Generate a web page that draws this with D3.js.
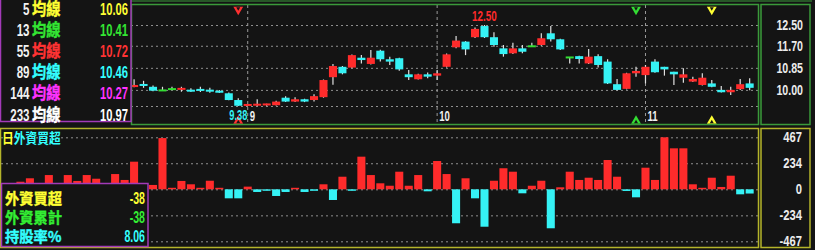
<!DOCTYPE html>
<html>
<head>
<meta charset="utf-8">
<script src="https://cdn.jsdelivr.net/npm/d3@7"></script>
<style>
html, body { margin: 0; padding: 0; background: #141414; }
svg { display: block; }
</style>
</head>
<body>
<div id="chart"></div>
<script>
// ---- data ----
// foreign net buy (lots), one per trading day
var foreignNet = [68, 99, 20, 128, 25, 128, 75, 128, 95, 30, 137, 84,
  248, 30, 39, 460, 9, 75, 45, 12, 77, 9,
  -81, -81, 24, -24, -12, -60, -24, 12, -24, -6,
  45, -96, 113, -9, 293, 128, 54, 32, 158, 32,
  128, -18, 254, 137, -305, 99, -81, -336, 77, 189,
  158, -36, 32, 77, -350, 18, 158, 84, 104, 84,
  263, 113, -15, -72, 194, 84, 467, 368, 368, 45,
  12, 104, 21, 122, -45, -38];

// the first days of the candle panel sit under the MA legend
var candleOffset = 12;
var open = [10.11, 10.19, 10.12, 9.98, 10.03, 10.00, 9.97, 10.00, 9.97, 9.93,
  9.87, 9.61, 9.39, 9.39, 9.40, 9.41, 9.70, 9.55, 9.64, 9.61,
  9.72, 10.49, 10.89, 10.86, 11.24, 11.00, 11.51, 11.18, 11.22, 10.60,
  10.41, 10.60, 10.55, 10.89, 11.64, 11.86, 12.03, 12.46, 12.03, 11.60,
  11.41, 11.60, 11.68, 11.73, 12.18, 11.95, 11.25, 11.30, 11.02, 11.30,
  11.09, 10.22, 10.04, 10.64, 10.57, 11.09, 10.89, 10.70, 10.47, 10.32,
  10.19, 10.25, 10.00, 9.91, 10.03, 10.25];
var high = [10.41, 10.35, 10.17, 10.12, 10.12, 10.12, 10.06, 10.12, 10.08, 10.00,
  9.90, 9.68, 9.45, 9.64, 9.47, 9.58, 9.76, 9.72, 9.66, 9.83,
  10.40, 11.00, 10.92, 11.36, 11.34, 11.54, 11.55, 11.28, 11.24, 10.77,
  10.62, 10.67, 10.77, 11.40, 12.08, 11.88, 12.40, 12.50, 12.22, 11.73,
  11.82, 11.73, 11.82, 12.18, 12.46, 11.97, 11.25, 11.32, 11.58, 11.37,
  11.18, 10.42, 10.66, 10.89, 10.96, 11.18, 10.89, 10.70, 10.83, 10.51,
  10.64, 10.38, 10.15, 10.12, 10.42, 10.45];
var low = [10.10, 10.08, 9.95, 9.96, 10.00, 9.93, 9.92, 9.92, 9.89, 9.88,
  9.60, 9.38, 9.38, 9.38, 9.39, 9.40, 9.53, 9.53, 9.53, 9.55,
  9.70, 10.20, 10.60, 10.83, 11.02, 10.98, 11.09, 10.96, 10.74, 10.38,
  10.40, 10.45, 10.38, 10.86, 11.60, 11.34, 12.00, 12.00, 11.66, 11.28,
  11.38, 11.41, 11.66, 11.70, 11.86, 11.54, 11.02, 11.02, 11.00, 10.86,
  10.23, 9.98, 10.02, 10.51, 10.25, 10.66, 10.55, 10.19, 10.28, 10.30,
  10.17, 10.10, 9.90, 9.80, 10.00, 9.99];
var close = [10.19, 10.14, 9.97, 9.98, 10.03, 10.04, 9.94, 9.97, 9.94, 9.90,
  9.61, 9.39, 9.42, 9.43, 9.44, 9.55, 9.55, 9.64, 9.55, 9.76,
  10.38, 10.92, 10.64, 11.34, 11.15, 11.24, 11.18, 11.09, 10.79, 10.49,
  10.60, 10.51, 10.64, 11.37, 11.90, 11.56, 12.35, 12.03, 11.73, 11.38,
  11.60, 11.47, 11.68, 11.99, 11.95, 11.56, 11.25, 11.19, 11.28, 10.96,
  10.25, 10.00, 10.64, 10.73, 10.89, 10.68, 10.79, 10.60, 10.60, 10.42,
  10.47, 10.12, 9.91, 10.00, 10.22, 10.08];

var monthDays = [24, 44, 66];
var monthLabels = ["9", "10", "11"];

var priceTicks = [12.50, 11.70, 10.85, 10.00];
var priceGrid = [12.50, 11.70, 10.85, 10.00, 9.38];
var netTicks = [467, 234, 0, -234, -467];

var maPeriods = ["5", "13", "55", "89", "144", "233"];
var maValues = ["10.06", "10.41", "10.72", "10.46", "10.27", "10.97"];
var maColors = ["#ffff33", "#33e633", "#ff3333", "#33ffff", "#ff33ff", "#ffffff"];

var signalDays = [23, 65, 73];
var signalColors = ["#ff3030", "#33dd33", "#ffff33"];

var infoLabels = ["外資買超", "外資累計", "持股率%"];
var infoValues = ["-38", "-38", "8.06"];
var infoColors = ["#ffff33", "#33ee33", "#33ffff"];

// ---- setup ----
var width = 815, height = 250;
var RED = "#ff2b2b", CYAN = "#35f2f5", GREEN = "#33dd33";
var NUM_FONT = "bold {s}px 'Liberation Sans', Arial, sans-serif";
var CJK_FONT = "bold {s}px 'Noto Sans CJK TC', 'Noto Sans CJK SC', sans-serif";

var svg = d3.select("#chart").append("svg")
  .attr("width", width)
  .attr("height", height)
  .style("background", "#141414");

var x = d3.scaleBand()
  .domain(d3.range(foreignNet.length))
  .range([15.7, 754.4])
  .paddingInner(0.15)
  .paddingOuter(0.075);
function cx(k) { return x(k) + x.bandwidth() / 2; }

var yPrice = d3.scaleLinear().domain([9.38, 12.50]).range([106, 25]);
var yNet = d3.scaleLinear().domain([-467, 467]).range([241.3, 137.3]);

// condensed text helper
function label(parent, px, py, str, size, sx, color, anchor, font) {
  var t = parent.append("text")
    .attr("transform", "translate(" + px + "," + py + ") scale(" + sx + ",1)")
    .attr("text-anchor", anchor || "start")
    .attr("fill", color)
    .style("font", (font || NUM_FONT).replace("{s}", size))
    .text(str);
  if (font === CJK_FONT) t.attr("stroke", color).attr("stroke-width", 0.4);
  return t;
}

function styleGrid(g) {
  g.select(".domain").remove();
  g.selectAll(".tick line")
    .attr("stroke", "#8f8f8f")
    .attr("stroke-dasharray", "2,3");
}

// ---- gridlines ----
svg.append("g")
  .attr("transform", "translate(758,0)")
  .call(d3.axisRight(yPrice).tickValues(priceGrid).tickSize(-626).tickFormat(""))
  .call(styleGrid);

svg.append("g")
  .attr("transform", "translate(758,0)")
  .call(d3.axisRight(yNet).tickValues(netTicks).tickSize(-758).tickFormat(""))
  .call(styleGrid);

// month separators
svg.append("g").selectAll("line")
  .data(monthDays)
  .enter().append("line")
  .attr("x1", function(d) { return cx(d); })
  .attr("x2", function(d) { return cx(d); })
  .attr("y1", 5)
  .attr("y2", 124)
  .attr("stroke", "#9a9a9a")
  .attr("stroke-dasharray", "3,3");

// ---- candles ----
var candles = d3.range(open.length).map(function(i) {
  return { k: i + candleOffset, o: open[i], h: high[i], l: low[i], c: close[i] };
});
function candleColor(d) { return d.c > d.o ? RED : (d.c < d.o ? CYAN : GREEN); }

var cg = svg.append("g");
cg.selectAll(".wick")
  .data(candles)
  .enter().append("line")
  .attr("x1", function(d) { return cx(d.k); })
  .attr("x2", function(d) { return cx(d.k); })
  .attr("y1", function(d) { return yPrice(d.h); })
  .attr("y2", function(d) { return yPrice(d.l); })
  .attr("stroke", "#e0e0e0")
  .attr("stroke-width", 1.2);

cg.selectAll(".body")
  .data(candles)
  .enter().append("rect")
  .attr("x", function(d) { return x(d.k); })
  .attr("width", x.bandwidth())
  .attr("y", function(d) { return yPrice(Math.max(d.o, d.c)) - (Math.abs(yPrice(d.o) - yPrice(d.c)) < 2 ? 1 : 0); })
  .attr("height", function(d) { return Math.max(2, Math.abs(yPrice(d.o) - yPrice(d.c))); })
  .attr("fill", candleColor);

// ---- foreign net bars ----
svg.append("g").selectAll("rect")
  .data(foreignNet)
  .enter().append("rect")
  .attr("x", function(d, i) { return x(i); })
  .attr("width", x.bandwidth())
  .attr("y", function(d) { return d >= 0 ? Math.min(yNet(d), yNet(0) - 1.5) : yNet(0); })
  .attr("height", function(d) { return Math.max(1.5, Math.abs(yNet(d) - yNet(0))); })
  .attr("fill", function(d) { return d >= 0 ? RED : CYAN; });

// ---- signal markers ----
var sg = svg.append("g");
signalDays.forEach(function(d, i) {
  sg.append("path")
    .attr("d", d3.symbol(d3.symbolTriangle, 42)())
    .attr("transform", "translate(" + cx(d) + ",9.5) rotate(180)")
    .attr("fill", signalColors[i]);
  sg.append("path")
    .attr("d", d3.symbol(d3.symbolTriangle, 7)())
    .attr("transform", "translate(" + cx(d) + ",8.5) rotate(180)")
    .attr("fill", "#141414");
  sg.append("path")
    .attr("d", d3.symbol(d3.symbolTriangle, 42)())
    .attr("transform", "translate(" + cx(d) + ",121)")
    .attr("fill", signalColors[i]);
  sg.append("path")
    .attr("d", d3.symbol(d3.symbolTriangle, 7)())
    .attr("transform", "translate(" + cx(d) + ",122)")
    .attr("fill", "#141414");
});

// highest / lowest labels
var hiI = d3.maxIndex(high), loI = d3.minIndex(low);
label(svg, cx(hiI + candleOffset), 20.5, d3.format(".2f")(high[hiI]), 15, 0.66, RED, "middle");
label(svg, cx(loI + candleOffset), 120, d3.format(".2f")(low[loI]), 15, 0.62, CYAN, "middle");

// month labels
monthDays.forEach(function(d, i) {
  label(svg, cx(d) + 2, 121, monthLabels[i], 15, 0.64, "#f0f0f0", "start");
});

// ---- frames ----
var FG = "#3a9a3a", FY = "#b4b42a", FP = "#a23ab8";
svg.append("line").attr("x1", 131).attr("x2", 812).attr("y1", 1).attr("y2", 1)
  .attr("stroke", FG);
svg.append("rect").attr("x", 131.5).attr("y", 4.5).attr("width", 627).attr("height", 120)
  .attr("fill", "none").attr("stroke", FG).attr("stroke-width", 1.5);
svg.append("rect").attr("x", 761).attr("y", 4.5).attr("width", 49).attr("height", 120)
  .attr("fill", "none").attr("stroke", FG).attr("stroke-width", 1.5);
svg.append("rect").attr("x", 0.5).attr("y", 128.5).attr("width", 758).attr("height", 119)
  .attr("fill", "none").attr("stroke", FY).attr("stroke-width", 1.5);
svg.append("rect").attr("x", 761).attr("y", 128.5).attr("width", 49).attr("height", 119)
  .attr("fill", "none").attr("stroke", FY).attr("stroke-width", 1.5);

// ---- right axes ----
function styleAxis(sx) {
  return function(g) {
    g.select(".domain").remove();
    g.selectAll(".tick line").remove();
    g.selectAll(".tick text")
      .attr("x", 0)
      .attr("text-anchor", "end")
      .attr("fill", "#ececec")
      .attr("transform", "scale(" + sx + ",1)")
      .style("font", NUM_FONT.replace("{s}", 14));
  };
}
svg.append("g")
  .attr("transform", "translate(803,0)")
  .call(d3.axisRight(yPrice).tickValues(priceTicks).tickSize(0).tickFormat(d3.format(".2f")))
  .call(styleAxis(0.76));
svg.append("g")
  .attr("transform", "translate(802,0)")
  .call(d3.axisRight(yNet).tickValues(netTicks).tickSize(0).tickFormat(function(d) { return String(d); }))
  .call(styleAxis(0.8));

// ---- MA legend ----
svg.append("rect").attr("x", 0.5).attr("y", -1).attr("width", 130.5).attr("height", 122.5)
  .attr("fill", "#141414").attr("stroke", FP).attr("stroke-width", 1.5);
maPeriods.forEach(function(p, i) {
  var by = 14.5 + 21.2 * i;
  label(svg, 29.5, by, p, 17, 0.68, "#f2f2f2", "end");
  label(svg, 32, by, "均線", 16.5, 0.86, maColors[i], "start", CJK_FONT);
  label(svg, 128, by, maValues[i], 17, 0.66, maColors[i], "end");
});

// ---- lower panel title ----
svg.append("text")
  .attr("transform", "translate(2,143) scale(0.87,1)")
  .style("font", CJK_FONT.replace("{s}", 13.5))
  .call(function(t) {
    t.append("tspan").attr("fill", "#ffff33").text("日");
    t.append("tspan").attr("fill", "#33ffff").text("外資買超");
  });

// ---- info legend ----
svg.append("rect").attr("x", 1.5).attr("y", 183.5).attr("width", 146.5).attr("height", 63)
  .attr("fill", "#141414").attr("stroke", FP).attr("stroke-width", 1.5);
infoLabels.forEach(function(t, i) {
  var by = [204, 222.5, 242][i];
  label(svg, 5, by, t, 15, 0.95, infoColors[i], "start", CJK_FONT);
  label(svg, 145, by, infoValues[i], 16, 0.66, infoColors[i], "end");
});
</script>
</body>
</html>
